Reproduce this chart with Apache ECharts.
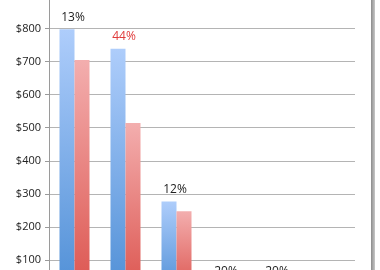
<!DOCTYPE html>
<html>
<head>
<meta charset="utf-8">
<script src="https://cdn.jsdelivr.net/npm/echarts@6/dist/echarts.min.js"></script>
<style>
  html, body { margin: 0; padding: 0; background: #fff; overflow: hidden; width: 380px; height: 270px; }
  /* the reference is cropped: the $900 row and the x axis sit outside the frame */
  #chart { position: absolute; left: 0; top: -10px; width: 380px; height: 310px; }
</style>
</head>
<body>
<div id="chart"></div>
<script>
// values (bottom of chart is cropped)
const categories = ['1', '2', '3', '4', '5', '6'];
const blueValues = [798, 739, 277, 27, 27, 0];
const redValues = [705, 514, 247, 22, 22, 0];
const pctLabels = ['13%', '44%', '12%', '20%', '20%', ''];
const pctColors = ['#222', '#e03a3a', '#222', '#222', '#222', '#222'];

const chart = echarts.init(document.getElementById('chart'));

const blueGrad = new echarts.graphic.LinearGradient(0, 0, 0, 1, [
  { offset: 0, color: '#aecdfb' },
  { offset: 1, color: '#4f8fd6' }
]);
const redGrad = new echarts.graphic.LinearGradient(0, 0, 0, 1, [
  { offset: 0, color: '#f3aeae' },
  { offset: 1, color: '#dc544e' }
]);

const option = {
  animation: false,
  grid: { left: 49, right: 25, top: 3, bottom: 7 },
  xAxis: {
    type: 'category',
    data: categories,
    axisLine: { show: false },
    axisTick: { show: false },
    axisLabel: { show: false }
  },
  yAxis: {
    type: 'value',
    min: 0,
    max: 900,
    interval: 100,
    axisLine: { show: true, lineStyle: { color: '#9a9a9a' } },
    axisTick: { show: true, length: 4, lineStyle: { color: '#9a9a9a' } },
    axisLabel: {
      color: '#222',
      fontSize: 11,
      fontFamily: 'Open Sans, sans-serif',
      margin: 8,
      formatter: v => '$' + v
    },
    splitLine: { lineStyle: { color: '#b4b4b4', width: 1 } }
  },
  series: [
    {
      type: 'bar',
      barWidth: 15,
      barGap: '0%',
      itemStyle: { color: blueGrad },
      data: blueValues.map((v, i) => ({
        value: v,
        label: {
          show: pctLabels[i] !== '',
          position: 'top',
          distance: 6,
          offset: [6, 0],
          formatter: pctLabels[i],
          color: pctColors[i],
          fontSize: 12,
          fontFamily: 'Open Sans, sans-serif'
        }
      }))
    },
    {
      type: 'bar',
      barWidth: 15,
      itemStyle: { color: redGrad },
      data: redValues
    }
  ]
};

chart.setOption(option);

// grey frame edge on the right
const frame = document.createElement('div');
frame.style.cssText = 'position:absolute;left:371px;top:0;width:4px;height:270px;background:linear-gradient(to right,#8c8c8c,#c8c8c8);';
document.body.appendChild(frame);
</script>
</body>
</html>
